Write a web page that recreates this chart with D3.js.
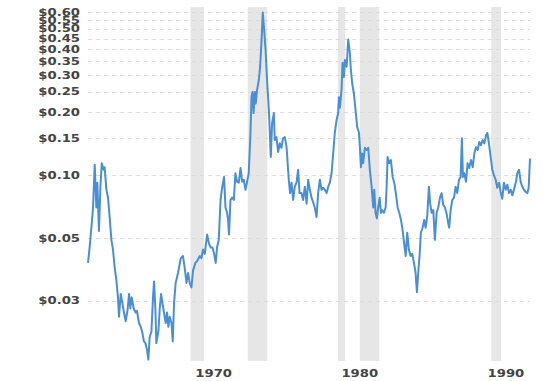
<!DOCTYPE html>
<html>
<head>
<meta charset="utf-8">
<script src="https://cdnjs.cloudflare.com/ajax/libs/d3/7.8.5/d3.min.js"></script>
<style>
  body{margin:0;background:#fff;}
  .lbl{font-family:"DejaVu Sans",Verdana,sans-serif;font-weight:bold;font-size:10px;fill:#444;}
</style>
</head>
<body>
<div class="chart"></div>
<script>
// decimal years + price ($/lb)
var dates = [
  1962.90,1963.01,1963.13,1963.24,1963.36,1963.47,1963.54,1963.65,1963.75,1963.84,1963.97,
  1964.04,1964.16,1964.27,1964.38,1964.50,1964.61,1964.73,1964.84,1964.95,
  1965.02,1965.14,1965.25,1965.36,1965.48,1965.60,1965.71,1965.80,1965.89,
  1966.03,1966.16,1966.25,1966.39,1966.51,1966.62,1966.73,1966.83,1966.94,
  1967.03,1967.12,1967.24,1967.35,1967.42,1967.51,1967.58,1967.72,1967.81,1967.90,1967.99,
  1968.10,1968.22,1968.31,1968.40,1968.49,1968.61,1968.70,1968.79,1968.90,
  1969.06,1969.25,1969.40,1969.52,1969.64,1969.75,1969.86,1969.98,
  1970.09,1970.25,1970.39,1970.55,1970.66,1970.77,1970.89,
  1971.05,1971.18,1971.30,1971.42,1971.53,1971.64,1971.73,1971.85,1971.97,
  1972.08,1972.21,1972.31,1972.42,1972.49,1972.55,1972.65,1972.76,1972.88,1972.99,
  1973.10,1973.22,1973.34,1973.45,1973.56,1973.68,1973.79,1973.90,
  1974.02,1974.09,1974.16,1974.23,1974.32,1974.38,1974.47,1974.59,1974.68,1974.77,1974.86,1974.95,
  1975.05,1975.18,1975.29,1975.41,1975.50,1975.62,1975.68,1975.80,1975.91,
  1976.03,1976.14,1976.25,1976.37,1976.49,1976.55,1976.64,1976.73,1976.83,1976.94,
  1977.05,1977.17,1977.28,1977.38,1977.51,1977.62,1977.74,1977.86,1977.97,
  1978.08,1978.20,1978.31,1978.42,1978.54,1978.65,1978.77,1978.88,1978.99,
  1979.11,1979.23,1979.34,1979.45,1979.57,1979.68,1979.79,1979.91,
  1980.02,1980.07,1980.14,1980.25,1980.32,1980.41,1980.48,1980.60,1980.71,1980.82,1980.89,1980.98,
  1981.10,1981.21,1981.32,1981.44,1981.51,1981.58,1981.66,1981.73,1981.85,1981.97,
  1982.08,1982.19,1982.31,1982.42,1982.49,1982.58,1982.67,1982.76,1982.86,1982.95,
  1983.03,1983.15,1983.27,1983.34,1983.40,1983.51,1983.63,1983.75,1983.86,1983.97,
  1984.09,1984.20,1984.32,1984.43,1984.54,1984.64,1984.75,1984.86,1984.98,
  1985.09,1985.21,1985.32,1985.41,1985.50,1985.60,1985.68,1985.80,1985.91,
  1986.01,1986.12,1986.23,1986.32,1986.42,1986.53,1986.64,1986.76,1986.87,1986.99,
  1987.10,1987.21,1987.33,1987.45,1987.55,1987.62,1987.72,1987.83,1987.95,
  1988.06,1988.17,1988.29,1988.40,1988.49,1988.56,1988.65,1988.77,1988.88,1988.99,
  1989.11,1989.23,1989.34,1989.45,1989.57,1989.68,1989.79,1989.91,
  1990.02,1990.14,1990.23,1990.34,1990.46,1990.57,1990.68,1990.80,1990.91,
  1991.03,1991.14,1991.25,1991.37,1991.49,1991.60,1991.71,1991.83,1991.94,
  1992.05,1992.19,1992.28,1992.40,1992.51,1992.62,1992.74,1992.86,1992.97,
  1993.06,1993.15
];
var prices = [
  0.038,0.045,0.056,0.069,0.112,0.070,0.092,0.054,0.088,0.114,0.106,
  0.109,0.085,0.078,0.063,0.049,0.044,0.036,0.0315,0.026,
  0.021,0.027,0.0245,0.022,0.020,0.0224,0.027,0.023,0.026,
  0.023,0.022,0.0224,0.0196,0.0188,0.0176,0.016,0.0157,0.0146,
  0.0131,0.0168,0.0178,0.026,0.031,0.023,0.0157,0.018,0.023,0.027,0.0245,
  0.022,0.0196,0.022,0.0188,0.021,0.0196,0.016,0.0245,0.0305,
  0.034,0.040,0.041,0.036,0.0305,0.034,0.0305,0.029,
  0.035,0.038,0.039,0.041,0.040,0.044,0.042,
  0.052,0.047,0.045,0.045,0.042,0.038,0.045,0.049,0.076,
  0.087,0.098,0.070,0.066,0.061,0.052,0.076,0.078,0.076,0.102,
  0.093,0.092,0.108,0.093,0.095,0.085,0.093,0.102,
  0.159,0.236,0.25,0.198,0.25,0.22,0.255,0.285,0.33,0.43,0.60,0.50,
  0.40,0.265,0.198,0.122,0.177,0.198,0.147,0.152,0.129,
  0.142,0.135,0.15,0.152,0.136,0.118,0.095,0.082,0.092,0.076,
  0.088,0.092,0.106,0.082,0.082,0.076,0.088,0.073,0.095,
  0.085,0.078,0.074,0.070,0.063,0.082,0.095,0.085,0.087,
  0.085,0.082,0.088,0.092,0.102,0.127,0.159,0.183,
  0.198,0.236,0.21,0.255,0.345,0.295,0.355,0.33,0.445,0.385,0.32,0.275,
  0.245,0.205,0.17,0.160,0.136,0.109,0.127,0.114,0.135,0.132,
  0.135,0.106,0.088,0.070,0.085,0.066,0.062,0.070,0.078,0.066,
  0.068,0.066,0.070,0.088,0.122,0.114,0.118,0.098,0.092,0.082,
  0.070,0.066,0.061,0.0545,0.047,0.041,0.053,0.044,0.041,
  0.042,0.038,0.034,0.0275,0.034,0.042,0.053,0.056,0.061,
  0.056,0.064,0.088,0.073,0.066,0.068,0.049,0.066,0.070,0.078,
  0.082,0.072,0.070,0.065,0.059,0.056,0.068,0.076,0.078,
  0.088,0.082,0.095,0.098,0.15,0.098,0.102,0.093,0.114,0.108,
  0.118,0.109,0.127,0.136,0.132,0.144,0.139,0.147,
  0.142,0.155,0.159,0.142,0.122,0.106,0.100,0.095,0.087,
  0.092,0.083,0.077,0.092,0.085,0.090,0.082,0.085,0.080,
  0.085,0.093,0.102,0.106,0.093,0.088,0.085,0.083,0.082,
  0.087,0.12
];
var recessions = [[1969.92,1970.83],[1973.83,1975.17],[1980.0,1980.5],[1981.5,1982.83],[1990.5,1991.17]];
var yTicks = [0.025,0.05,0.10,0.15,0.20,0.25,0.30,0.35,0.40,0.45,0.50,0.55,0.60];
var yTickLabels = ["$0.03","$0.05","$0.10","$0.15","$0.20","$0.25","$0.30","$0.35","$0.40","$0.45","$0.50","$0.55","$0.60"];
var xTicks = [1970,1980,1990];
var yDomain = [0.0129,0.637];

var PriceChart = function(){
  this.w = 550; this.h = 381;
  this.margins = {top:7,right:20,bottom:20,left:88};
  this.data = dates.map(function(d,i){ return {date:d,price:prices[i]}; });
  this.render();
}

PriceChart.prototype = {
  scales:function(){
    var m = this.margins;
    this.x = d3.scaleLinear().domain([dates[0],dates[dates.length-1]]).range([m.left,this.w-m.right]);
    this.y = d3.scaleLog().domain(yDomain).range([this.h-m.bottom,m.top]);
  },
  addBands:function(svg){
    var x = this.x, m = this.margins, h = this.h;
    svg.selectAll('.band').data(recessions).enter().append('rect')
      .attr('class','band')
      .attr('x',function(d){return x(d[0])})
      .attr('width',function(d){return x(d[1])-x(d[0])})
      .attr('y',m.top)
      .attr('height',h-m.bottom-m.top)
      .style('fill','#e6e6e6');
  },
  addGrid:function(svg){
    var x0 = this.x.range()[0], x1 = this.x.range()[1], y = this.y;
    svg.selectAll('.grid').data(yTicks).enter().append('line')
      .attr('class','grid')
      .attr('x1',x0).attr('x2',x1)
      .attr('y1',function(d){return Math.round(y(d))+0.5})
      .attr('y2',function(d){return Math.round(y(d))+0.5})
      .style('stroke','#dcdcdc')
      .style('stroke-dasharray','4,4');
  },
  addAxes:function(svg){
    var y = this.y, x = this.x, h = this.h;
    svg.selectAll('.ylbl').data(yTicks).enter().append('text')
      .attr('class','lbl ylbl')
      .attr('text-anchor','end')
      .attr('dy','0.35em')
      .attr('transform',function(d){return 'translate(80,'+y(d)+') scale(1.32,1)'})
      .text(function(d,i){return yTickLabels[i]});
    // labels sit a year and a half right of the tick in the original
    svg.selectAll('.xlbl').data(xTicks).enter().append('text')
      .attr('class','lbl xlbl')
      .attr('text-anchor','middle')
      .attr('transform',function(d){return 'translate('+x(d+1.5)+','+(h-4)+') scale(1.32,1)'})
      .text(function(d){return d});
  },
  addLine:function(svg){
    var x = this.x, y = this.y;
    var line = d3.line().x(function(d){return x(d.date)}).y(function(d){return y(d.price)});
    svg.append('path').datum(this.data)
      .attr('d',line)
      .style('fill','none')
      .style('stroke','#4a8fd6')
      .style('stroke-width',2)
      .style('stroke-linejoin','round');
  },
  render:function(){
    this.scales();
    var svg = d3.select('.chart').append('svg').attr('width',this.w).attr('height',this.h);
    this.addBands(svg);
    this.addGrid(svg);
    this.addAxes(svg);
    this.addLine(svg);
  }
}

new PriceChart();
</script>
</body>
</html>
